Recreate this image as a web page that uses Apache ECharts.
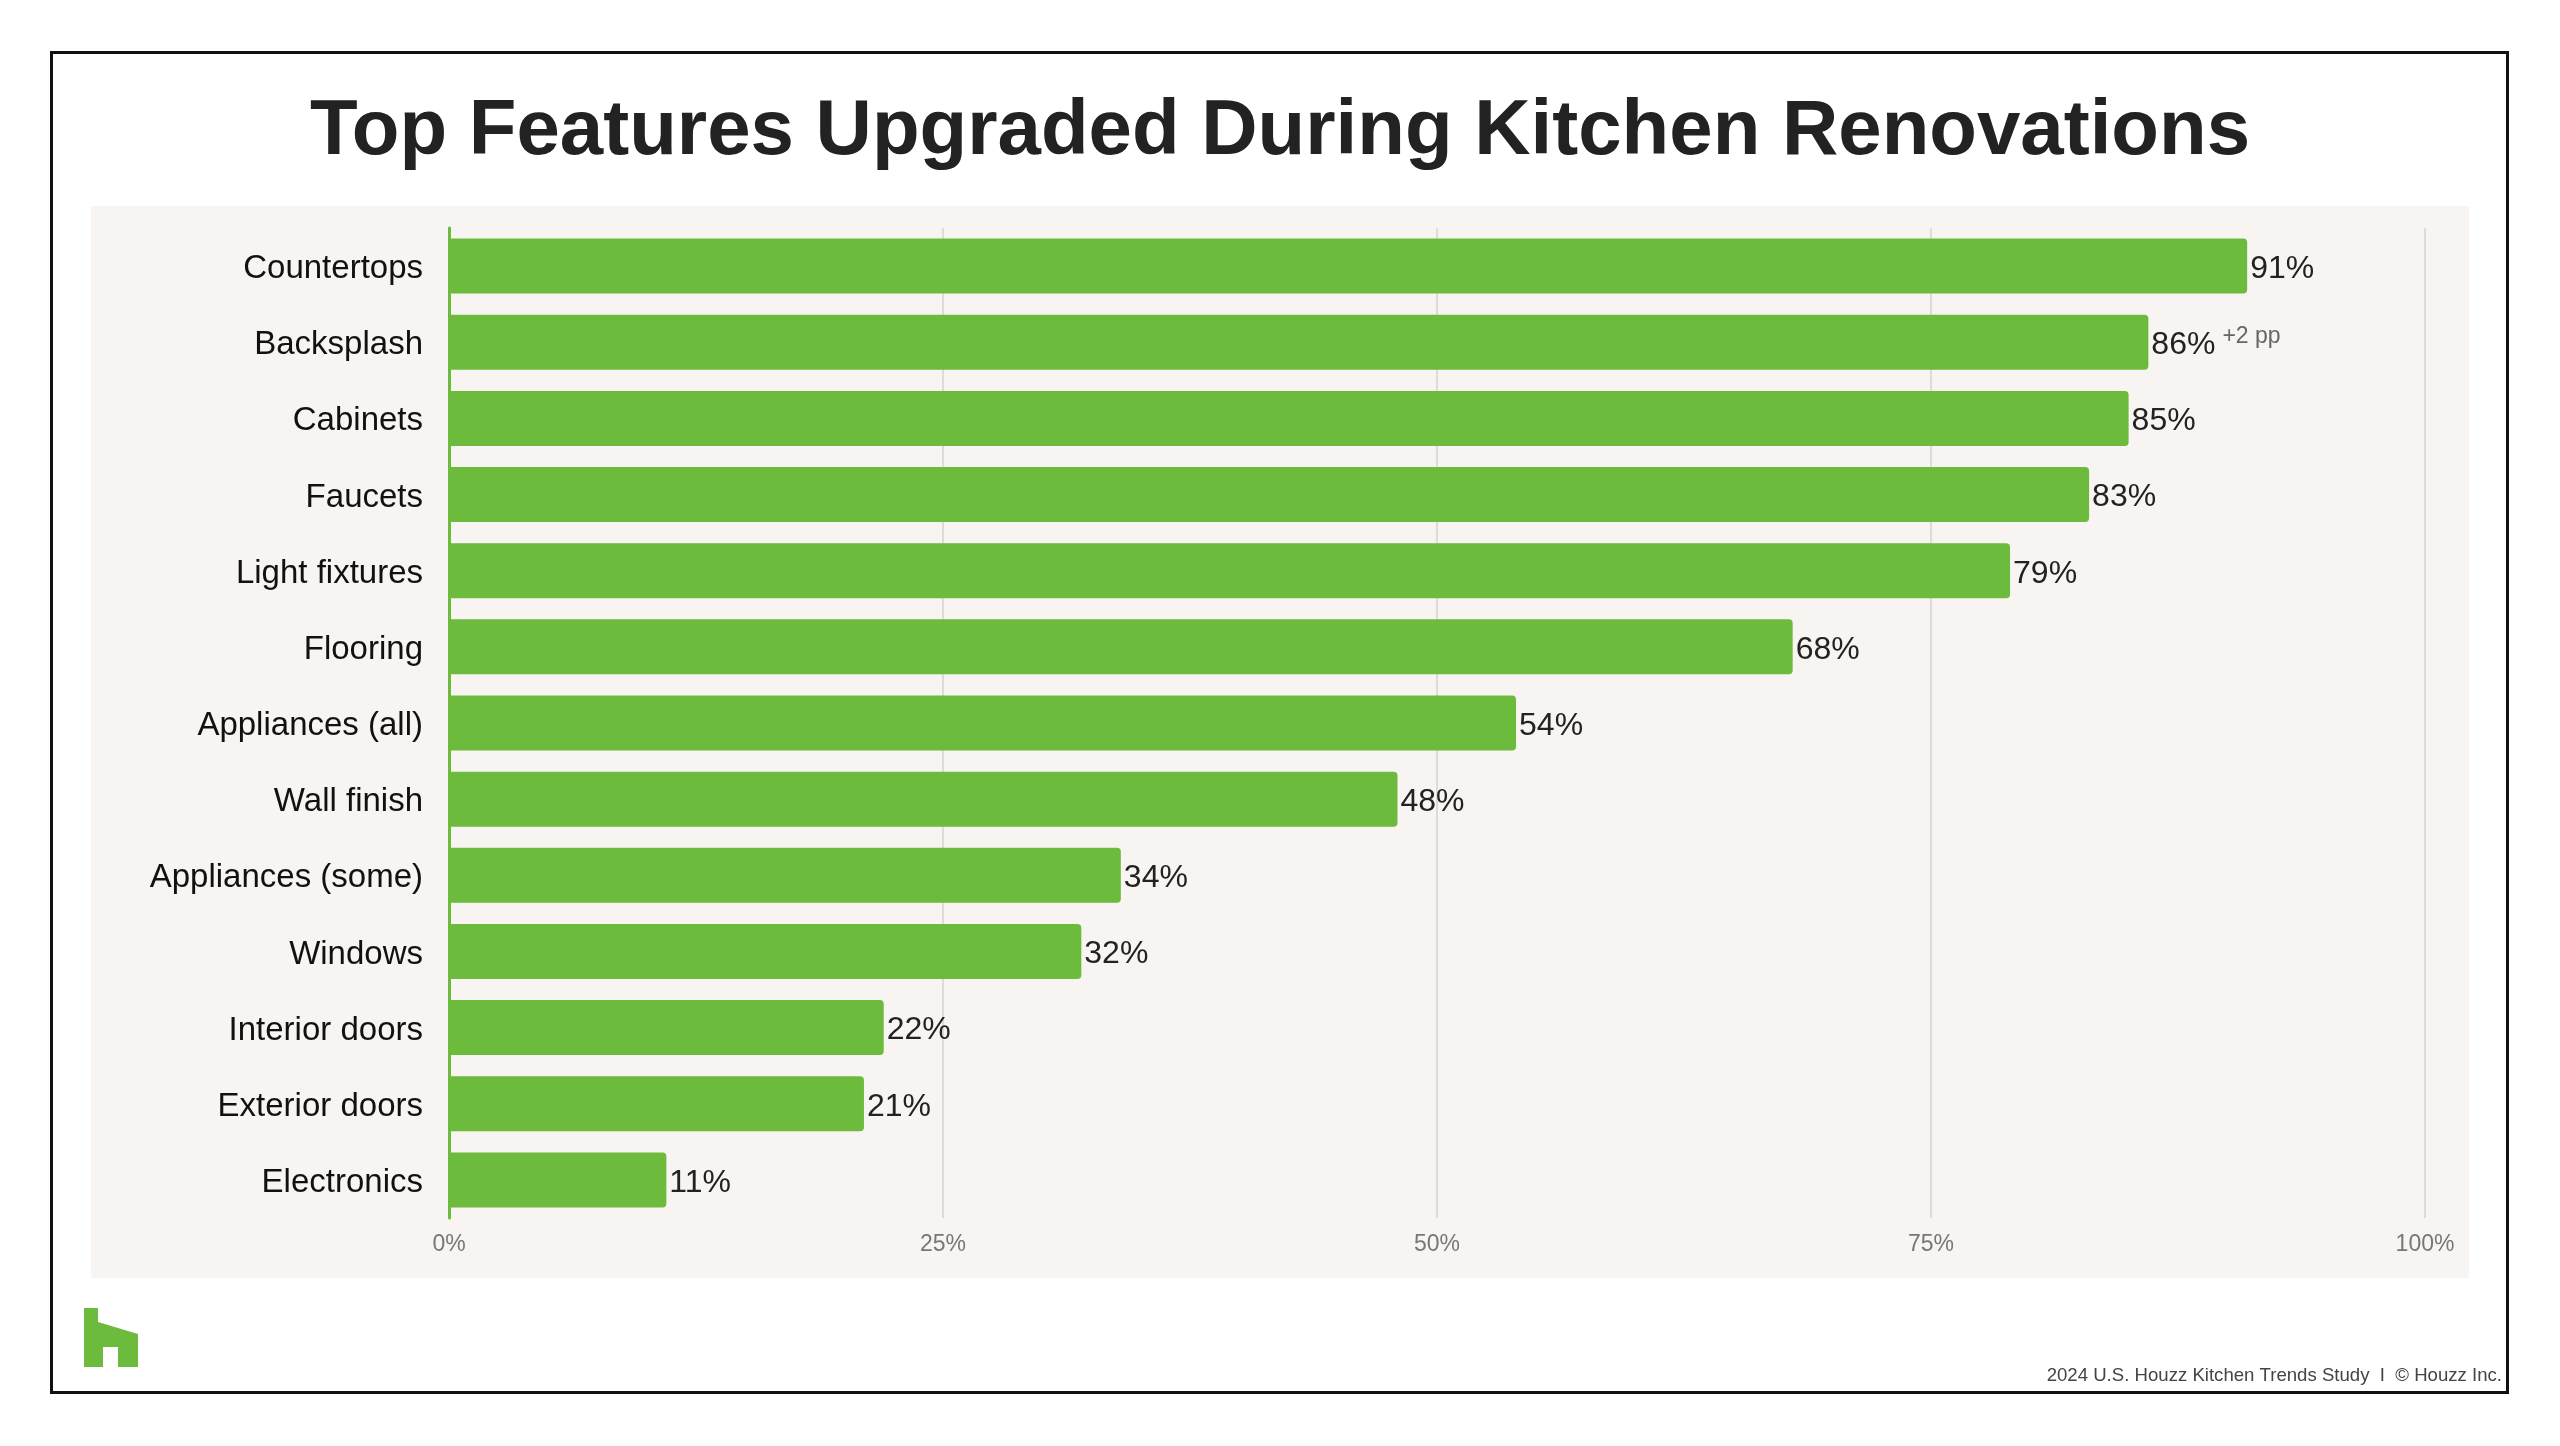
<!DOCTYPE html>
<html>
<head>
<meta charset="utf-8">
<script src="https://cdn.jsdelivr.net/npm/echarts@6/dist/echarts.min.js"></script>
<style>
html,body{margin:0;padding:0;background:#fff;}
#chart{width:2560px;height:1446px;}
</style>
</head>
<body>
<div id="chart"></div>
<script>
const categories = ['Countertops','Backsplash','Cabinets','Faucets','Light fixtures','Flooring','Appliances (all)','Wall finish','Appliances (some)','Windows','Interior doors','Exterior doors','Electronics'];
const values = [91,86,85,83,79,68,54,48,34,32,22,21,11];
const changes = ['','+2 pp','','','','','','','','','','',''];
const xTicks = {min:0, max:100, interval:25};
const titleText = 'Top Features Upgraded During Kitchen Renovations';
const footerText = '2024 U.S. Houzz Kitchen Trends Study  I  \u00A9 Houzz Inc.';

const FONT = "'Liberation Sans', Arial, sans-serif";
const GREEN = '#6cbb3d';

const chart = echarts.init(document.getElementById('chart'), null, {renderer:'canvas'});
chart.setOption({
  animation:false,
  backgroundColor:'#ffffff',
  title:{
    text:titleText,
    left:'center',
    top:88,
    textStyle:{fontFamily:FONT, fontSize:78, fontWeight:'bold', color:'#222'}
  },
  grid:{left:449, right:135, top:228, bottom:228, containLabel:false},
  xAxis:{
    type:'value',
    min:xTicks.min, max:xTicks.max, interval:xTicks.interval,
    axisLine:{show:false},
    axisTick:{show:false},
    axisLabel:{formatter:'{value}%', color:'#777', fontSize:23, fontFamily:FONT, margin:15},
    splitLine:{show:true, lineStyle:{color:'#dedbd8', width:2}}
  },
  yAxis:{
    type:'category',
    data:categories,
    inverse:true,
    axisLine:{show:true, lineStyle:{color:GREEN, width:3}},
    axisTick:{show:false},
    axisLabel:{
      margin:26,
      formatter:function(v){ return '{a|' + v + '}'; },
      rich:{a:{color:'#111', fontSize:33, fontFamily:FONT, padding:[6,0,0,0]}}
    }
  },
  series:[{
    type:'bar',
    data:values,
    barWidth:55,
    itemStyle:{color:GREEN, borderRadius:[0,4,4,0]},
    label:{
      show:true,
      position:'right',
      distance:3,
      offset:[0,3],
      formatter:function(p){
        const c = changes[p.dataIndex];
        return c ? '{v|' + p.value + '%}{s|' + c + '}' : '{v|' + p.value + '%}';
      },
      rich:{
        v:{fontSize:32, color:'#222', fontFamily:FONT, lineHeight:40},
        s:{fontSize:23, color:'#666', fontFamily:FONT, lineHeight:16, verticalAlign:'top', padding:[0,0,0,7]}
      }
    }
  }],
  graphic:[
    {type:'rect', z:-100, silent:true, shape:{x:91, y:206, width:2378, height:1072}, style:{fill:'#f7f4f1'}},
    {type:'rect', z:-99, silent:true, shape:{x:51.5, y:52.5, width:2456, height:1340}, style:{fill:'none', stroke:'#111', lineWidth:3}},
    {type:'polygon', z:10, silent:true, shape:{points:[[84,1308],[98,1308],[98,1322],[138,1334],[138,1367],[118,1367],[118,1347],[103,1347],[103,1367],[84,1367]]}, style:{fill:GREEN}},
    {type:'text', z:10, silent:true, style:{text:footerText, x:2502, y:1376, textAlign:'right', textVerticalAlign:'middle', font:"18.6px 'Liberation Sans', Arial, sans-serif", fill:'#444'}}
  ]
});
</script>
</body>
</html>
